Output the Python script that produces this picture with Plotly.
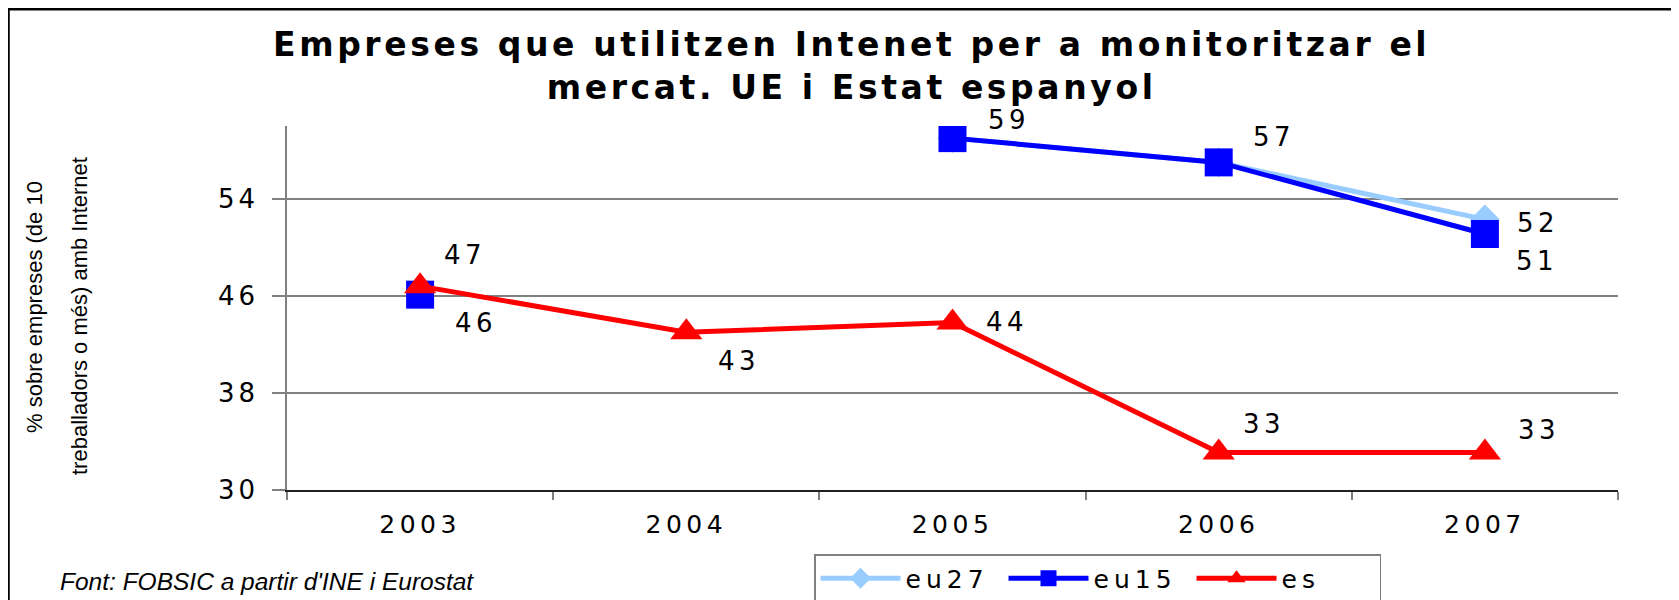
import plotly.graph_objects as go

# data
years = ["2003", "2004", "2005", "2006", "2007"]
eu27 = [None, None, 59, 57, 52.3]
eu15 = [46.1, None, 59, 57, 51.1]
es = [46.8, 43, 43.8, 33.1, 33.1]

eu27_labels = [None, None, None, None, "52"]
eu15_labels = ["46", None, "59", "57", "51"]
es_labels = ["47", "43", "44", "33", "33"]

y_ticks = [30, 38, 46, 54]

# the page body adds an 8px margin, so the figure is a little smaller than the window
W, H = 1671, 592
ML, MR, MT, MB = 279, 61, 118, 110
PW, PH = W - ML - MR, H - MT - MB


def spaced(txt, px):
    "Widen text a bit (the original glyphs are horizontally stretched)."
    return f"<span style='letter-spacing:{px}px'>{txt}</span>"


def px_x(x):
    return (x - ML) / PW


def px_y(y):
    return (H - MB - y) / PH


fig = go.Figure()
fig.add_trace(go.Scatter(
    x=years, y=eu27, name=spaced("eu27", 5), mode="lines+markers",
    line=dict(color="#99CCFF", width=5),
    marker=dict(symbol="diamond", size=23, color="#99CCFF")))
fig.add_trace(go.Scatter(
    x=years, y=eu15, name=spaced("eu15", 5), mode="lines+markers",
    line=dict(color="#0000FF", width=5),
    marker=dict(symbol="square", size=28, color="#0000FF")))
fig.add_trace(go.Scatter(
    x=years, y=es, name=spaced("es", 5), mode="lines+markers",
    line=dict(color="#FF0000", width=5),
    marker=dict(symbol="triangle-up", size=28, color="#FF0000")))

# value labels, shifted like in the original
lab_font = dict(family="DejaVu Sans", size=26, color="black")
shifts = {
    "eu27": [None, None, None, None, (53, -4)],
    "eu15": [(56, -28), None, (56, 18), (55, 25), (52, -27)],
    "es": [(45, 31), (53, -29), (54, 1), (45, 28), (54, 22)],
}
for key, vals, labs in (("eu27", eu27, eu27_labels), ("eu15", eu15, eu15_labels), ("es", es, es_labels)):
    for i, (v, t) in enumerate(zip(vals, labs)):
        if t is None or v is None:
            continue
        dx, dy = shifts[key][i]
        fig.add_annotation(x=i, y=v, text=spaced(t, 4.5), showarrow=False,
                           xshift=dx, yshift=dy, font=lab_font)

# title
fig.add_annotation(
    xref="paper", yref="paper", x=px_x(843), y=px_y(58),
    xanchor="center", yanchor="middle", showarrow=False,
    text=spaced("<b>Empreses que utilitzen Intenet per a monitoritzar el<br>mercat. UE i Estat espanyol</b>", 3.6),
    font=dict(family="DejaVu Sans", size=33, color="black"))

# y axis title in two lines
ytitle_font = dict(family="Liberation Sans, Arial", size=22, color="black")
fig.add_annotation(xref="paper", yref="paper", x=px_x(26), y=px_y(299),
                   xanchor="center", yanchor="middle",
                   text="% sobre empreses (de 10", textangle=-90, showarrow=False,
                   font=ytitle_font)
fig.add_annotation(xref="paper", yref="paper", x=px_x(71), y=px_y(308),
                   xanchor="center", yanchor="middle",
                   text="treballadors o més) amb Internet", textangle=-90, showarrow=False,
                   font=ytitle_font)

# source note
fig.add_annotation(xref="paper", yref="paper", x=px_x(50), y=px_y(573),
                   xanchor="left", yanchor="middle",
                   text="<i>Font: FOBSIC a partir d'INE i Eurostat</i>", showarrow=False,
                   font=dict(family="Liberation Sans, Arial", size=24.5, color="black"))

# outer frame (right and bottom edges fall outside the picture)
fig.add_shape(type="rect", xref="paper", yref="paper",
              x0=px_x(0.5), x1=px_x(W + 20), y0=px_y(H + 20), y1=px_y(1.2),
              line=dict(color="black", width=2.5))

fig.update_layout(
    width=W, height=H,
    margin=dict(l=ML, r=MR, t=MT, b=MB, autoexpand=False),
    paper_bgcolor="white", plot_bgcolor="white",
    font=dict(family="DejaVu Sans", color="black"),
    showlegend=True,
    legend=dict(orientation="h", x=px_x(806), y=px_y(546),
                xanchor="left", yanchor="top",
                bgcolor="white", bordercolor="#808080", borderwidth=1.5,
                font=dict(family="DejaVu Sans", size=25),
                itemwidth=80, entrywidth=93, entrywidthmode="pixels"),
)
fig.update_xaxes(type="category", range=[-0.5, 4.5], showgrid=False,
                 tickvals=years, ticktext=[spaced(y, 4.5) for y in years],
                 showline=True, linecolor="#202020", linewidth=2,
                 ticks="outside", tickson="boundaries", ticklen=8,
                 tickcolor="#808080", tickwidth=1.5, ticklabelstandoff=11,
                 tickfont=dict(family="DejaVu Sans", size=25), fixedrange=True)
fig.update_yaxes(range=[30, 60], tickvals=y_ticks, ticktext=[spaced(v, 4) for v in y_ticks],
                 showgrid=True, gridcolor="#808080", gridwidth=1.5,
                 showline=True, linecolor="#808080", linewidth=1.5,
                 ticks="outside", ticklen=13, tickcolor="#808080", tickwidth=1.5,
                 ticklabelstandoff=8,
                 tickfont=dict(family="DejaVu Sans", size=26), zeroline=False, fixedrange=True)

fig.write_html("out.html")
